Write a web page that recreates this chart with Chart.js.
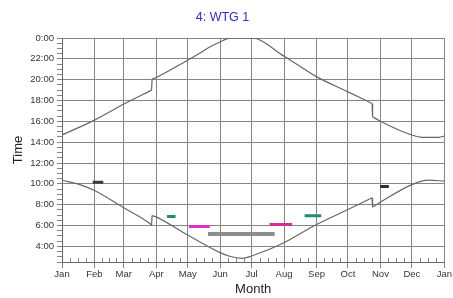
<!DOCTYPE html>
<html>
<head>
<meta charset="utf-8">
<script src="https://cdn.jsdelivr.net/npm/chart.js@4.4.1/dist/chart.umd.min.js"></script>
<style>
  html, body { margin: 0; padding: 0; background: #fff; }
  #wrap { width: 453px; height: 298px; }
</style>
</head>
<body>
<div id="wrap"><canvas id="chart"></canvas></div>
<script>
// Shadow calendar for WTG 1 (x = day of year, y = hour of day)
const monthLabels = ['Jan', 'Feb', 'Mar', 'Apr', 'May', 'Jun', 'Jul', 'Aug', 'Sep', 'Oct', 'Nov', 'Dec', 'Jan'];
const monthStarts = [0, 31, 59, 90, 120, 151, 181, 212, 243, 273, 304, 334, 365];

const hourTicks = [4, 6, 8, 10, 12, 14, 16, 18, 20, 22, 24];
const hourLabels = ['4:00', '6:00', '8:00', '10:00', '12:00', '14:00', '16:00', '18:00', '20:00', '22:00', '0:00'];

// sunset line (top)
const sunsetDays  = [0, 31, 59, 85.5, 86, 90, 120, 131, 141, 151, 158, 163, 181, 212, 242, 273, 296, 296.5, 303, 334, 344, 360, 365];
const sunsetTimes = [14.69, 16.12, 17.66, 19.0, 20.05, 20.21, 21.87, 22.51, 23.14, 23.62, 23.94, 24, 24, 22.25, 20.34, 18.83, 17.72, 16.44, 16.06, 14.69, 14.47, 14.47, 14.59];

// sunrise line (bottom)
const sunriseDays  = [0, 17, 31, 59, 84, 85.5, 86, 88, 120, 151, 160, 172, 181, 212, 242, 273, 296, 296.5, 303, 334, 350, 365];
const sunriseTimes = [10.35, 9.93, 9.36, 7.7, 6.17, 6.02, 6.95, 6.9, 5.09, 3.4, 3.05, 2.85, 3.08, 4.35, 6.05, 7.54, 8.66, 7.77, 8.18, 9.93, 10.35, 10.26];

// shadow periods
const flickerStart = [29.3, 100.3, 121.3, 139.4, 198.2, 231.6, 303.7];
const flickerEnd   = [39.4, 108.4, 141, 203, 219.7, 247.5, 312];
const flickerTime  = [10.16, 6.87, 5.91, 5.19, 6.1, 6.94, 9.74];

const flickerColors = ['#3c3c3c', '#1f8c74', '#e02cc8', '#8c8c8c', '#d82c96', '#1f8c74', '#2e2e2e'];
const flickerWidths = [3, 3, 3, 4, 3, 3, 3];

const FONT = 'Liberation Sans, Arial, sans-serif';
const GRID = '#858585';
const CURVE = '#666';

const yTickValues = [];
for (let h = 2.5; h <= 24; h += 0.5) yTickValues.push(h);

const minorXTicks = [];
for (let m = 0; m < 12; m++) {
    const len = monthStarts[m + 1] - monthStarts[m];
    for (let k = 1; k < 4; k++) minorXTicks.push(monthStarts[m] + len * k / 4);
}

// split a curve at the clock-change jumps so the smoothing does not bend around them
function curvePieces(xs, ys) {
    const pieces = [];
    let cur = [{ x: xs[0], y: ys[0] }];
    for (let i = 1; i < xs.length; i++) {
        const p = { x: xs[i], y: ys[i] };
        if (xs[i] - xs[i - 1] < 1) {
            pieces.push({ pts: cur, smooth: true });
            pieces.push({ pts: [cur[cur.length - 1], p], smooth: false });
            cur = [p];
        } else {
            cur.push(p);
        }
    }
    pieces.push({ pts: cur, smooth: true });
    return pieces;
}

const datasets = [];
[curvePieces(sunsetDays, sunsetTimes), curvePieces(sunriseDays, sunriseTimes)].forEach(pieces => {
    pieces.forEach(pc => {
        datasets.push({
            data: pc.pts,
            borderColor: CURVE,
            borderWidth: 1.2,
            cubicInterpolationMode: pc.smooth ? 'monotone' : 'default'
        });
    });
});
flickerStart.forEach((s, i) => {
    datasets.push({
        data: [{ x: s, y: flickerTime[i] }, { x: flickerEnd[i], y: flickerTime[i] }],
        borderColor: flickerColors[i],
        borderWidth: flickerWidths[i],
        borderCapStyle: 'butt'
    });
});

// small inward ticks along the month axis
const minorTicks = {
    id: 'minorTicks',
    afterDatasetsDraw(chart) {
        const c = chart.ctx;
        const xs = chart.scales.x;
        const bottom = chart.chartArea.bottom;
        c.save();
        c.strokeStyle = GRID;
        c.lineWidth = 1;
        c.beginPath();
        minorXTicks.forEach(d => {
            const px = Math.round(xs.getPixelForValue(d)) + 0.5;
            c.moveTo(px, bottom);
            c.lineTo(px, bottom - 4);
        });
        c.stroke();
        c.restore();
    }
};

new Chart(document.getElementById('chart'), {
    type: 'line',
    data: { datasets: datasets },
    plugins: [minorTicks],
    options: {
        responsive: true,
        maintainAspectRatio: false,
        animation: false,
        devicePixelRatio: 1,
        elements: { point: { radius: 0 }, line: { tension: 0 } },
        layout: { padding: { left: 0, right: 8, top: 0, bottom: 0 } },
        plugins: {
            legend: { display: false },
            tooltip: { enabled: false },
            title: {
                display: true,
                text: '4: WTG 1',
                color: '#2b2bd8',
                font: { family: FONT, size: 12.5, weight: 'normal' },
                padding: { top: 10, bottom: 13 }
            }
        },
        scales: {
            x: {
                type: 'linear',
                min: 0,
                max: 365,
                afterBuildTicks: s => { s.ticks = monthStarts.map(v => ({ value: v })); },
                afterFit: s => { s.height = 36; },
                ticks: {
                    autoSkip: false,
                    maxRotation: 0,
                    color: '#333',
                    padding: 1,
                    font: { family: FONT, size: 9.5 },
                    callback: (v, i) => monthLabels[i]
                },
                grid: { color: GRID, tickColor: GRID, tickLength: 6 },
                border: { color: '#666' },
                title: {
                    display: true,
                    text: 'Month',
                    color: '#222',
                    font: { family: FONT, size: 13 },
                    padding: { top: 0, bottom: 1 }
                }
            },
            y: {
                type: 'linear',
                min: 2.5,
                max: 24,
                afterBuildTicks: s => { s.ticks = yTickValues.map(v => ({ value: v })); },
                afterFit: s => { s.width = 62; },
                ticks: {
                    autoSkip: false,
                    color: '#333',
                    padding: 3,
                    font: { family: FONT, size: 9.5 },
                    callback: v => {
                        const i = hourTicks.indexOf(v);
                        return i < 0 ? '' : hourLabels[i];
                    }
                },
                grid: {
                    color: ctx => hourTicks.includes(ctx.tick && ctx.tick.value) ? GRID : 'rgba(0,0,0,0)',
                    tickColor: GRID,
                    tickLength: 5
                },
                border: { color: '#666' },
                title: {
                    display: true,
                    text: 'Time',
                    color: '#222',
                    font: { family: FONT, size: 13 },
                    padding: { top: 11, bottom: 0 }
                }
            }
        }
    }
});
</script>
</body>
</html>
